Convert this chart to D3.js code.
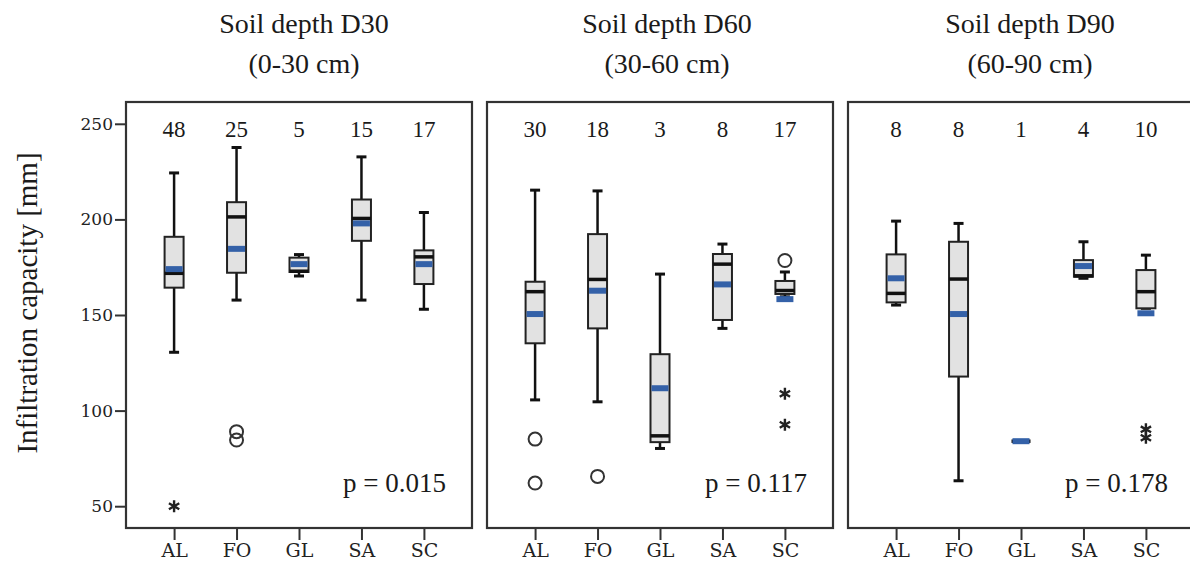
<!DOCTYPE html>
<html lang="en">
  <head>
    <meta charset="utf-8">
    <title>Infiltration capacity by soil depth</title>
    <style>
body {
  margin: 0;
  background: #fff;
}
svg {
  display: block;
}
.title, .count, .pval, .ylabel {
  font-family: "Liberation Serif", "Times New Roman", serif;
  fill: #1a1a1a;
}
.axis text {
  font-family: "DejaVu Serif", serif;
  fill: #222;
}
.axis path {
  display: none;
}
.axis line {
  stroke: #333;
  stroke-width: 2;
}
.frame {
  fill: none;
  stroke: #333;
  stroke-width: 2.2;
}
.whisker {
  stroke: #111;
  stroke-width: 2.5;
}
.cap {
  stroke: #111;
  stroke-width: 3;
}
.box {
  fill: #e2e2e2;
  stroke: #222;
  stroke-width: 2;
}
.median {
  stroke: #111;
  stroke-width: 3.5;
}
.mean {
  stroke: #3461a8;
  stroke-width: 6;
}
.outlier {
  fill: none;
  stroke: #333;
  stroke-width: 2;
}
.extreme {
  fill: none;
  stroke: #222;
  stroke-width: 2.4;
}
    </style>
  </head>
  <body>
    <svg></svg>
    <script src="https://cdn.jsdelivr.net/npm/d3@7"></script>
    <script>

const groups = ["AL", "FO", "GL", "SA", "SC"];
const depthTitles = ["Soil depth D30", "Soil depth D60", "Soil depth D90"];
const depthRanges = ["(0-30 cm)", "(30-60 cm)", "(60-90 cm)"];
const counts = [
  [48, 25, 5, 15, 17],
  [30, 18, 3, 8, 17],
  [8, 8, 1, 4, 10]
];
const pValues = ["p = 0.015", "p = 0.117", "p = 0.178"];
const yTicks = [50, 100, 150, 200, 250];

// [lower whisker, Q1, median, Q3, upper whisker] per group
const statsD30 = [
  [130.5, 164.3, 171.8, 190.9, 224.3],
  [157.8, 172.1, 201.3, 209.0, 237.6],
  [170.4, 172.5, 172.9, 180.0, 181.6],
  [157.8, 188.8, 200.5, 210.4, 232.7],
  [153.0, 166.2, 180.4, 183.8, 203.6]
];
const statsD60 = [
  [105.6, 135.2, 162.2, 167.4, 215.3],
  [104.6, 143.0, 168.6, 192.3, 214.9],
  [80.2, 83.5, 86.8, 129.5, 171.4],
  [143.0, 147.4, 176.6, 181.9, 187.1],
  [159.5, 161.0, 162.8, 167.8, 172.5]
];
const statsD90 = [
  [155.2, 156.6, 161.3, 181.7, 199.1],
  [63.3, 117.8, 168.8, 188.3, 197.9],
  [84.0, 84.0, 84.0, 84.0, 84.0],
  [169.2, 170.0, 170.5, 178.7, 188.3],
  [153.5, 153.5, 162.2, 173.5, 181.3]
];
const meansD30 = [174.0, 184.6, 176.6, 197.9, 176.6];
const meansD60 = [150.5, 162.7, 111.7, 166.0, 158.3];
const meansD90 = [169.2, 150.5, 84.0, 175.6, 150.9];

// outliers: [panel, group, value]
const circleOutliers = [
  [0, "FO", 89.0], [0, "FO", 84.6],
  [1, "AL", 85.1], [1, "AL", 62.1], [1, "FO", 65.6], [1, "SC", 178.5]
];
const starOutliers = [
  [0, "AL", 50.0],
  [1, "SC", 108.8], [1, "SC", 92.6],
  [2, "SC", 90.2], [2, "SC", 85.8]
];

const statsByDepth = [statsD30, statsD60, statsD90];
const meansByDepth = [meansD30, meansD60, meansD90];

let width = 1190,
    height = 565,
    plotLeft = 126,
    plotTop = 102,
    plotBottom = 528,
    panelW = 346,
    gap = 15,
    boxW = 19,
    capW = 10;

let svg = d3.select("svg")
    .attr("width", width)
    .attr("height", height);

let y = d3.scaleLinear()
    .domain([38.6, 261.4])
    .range([plotBottom, plotTop]);

let x = d3.scalePoint()
    .domain(groups)
    .range([0, panelW])
    .padding(0.77);

let starType = d3.symbolAsterisk || d3.symbolCross;
let star = d3.symbol().type(starType).size(100);

svg.append("text")
    .attr("class", "ylabel")
    .attr("transform", "translate(37,303) rotate(-90)")
    .attr("text-anchor", "middle")
    .style("font-size", "29px")
    .text("Infiltration capacity [mm]");

depthTitles.forEach(function(title, i) {
  let px = plotLeft + i * (panelW + gap);
  let g = svg.append("g")
      .attr("transform", "translate(" + px + ",0)");

  // titles sit a little right of the panel centre
  let tx = panelW / 2 + 5 + i * 2;
  g.append("text")
      .attr("class", "title")
      .attr("x", tx)
      .attr("y", 33)
      .attr("text-anchor", "middle")
      .style("font-size", "28px")
      .text(title);
  g.append("text")
      .attr("class", "title")
      .attr("x", tx)
      .attr("y", 73)
      .attr("text-anchor", "middle")
      .style("font-size", "28px")
      .text(depthRanges[i]);

  if (i === 0) {
    g.append("g")
        .attr("class", "axis")
        .call(d3.axisLeft(y).tickValues(yTicks).tickSize(11).tickPadding(2))
        .selectAll("text")
        .style("font-size", "17px");
  }

  g.append("g")
      .attr("class", "axis")
      .attr("transform", "translate(0," + plotBottom + ")")
      .call(d3.axisBottom(x).tickSize(12).tickPadding(4))
      .selectAll("text")
      .style("font-size", "19px");

  g.append("rect")
      .attr("class", "frame")
      .attr("x", 0)
      .attr("y", plotTop)
      .attr("width", panelW)
      .attr("height", plotBottom - plotTop);

  g.selectAll(".count")
      .data(counts[i])
    .enter().append("text")
      .attr("class", "count")
      .attr("x", function(d, j) { return x(groups[j]); })
      .attr("y", 137)
      .attr("text-anchor", "middle")
      .style("font-size", "23px")
      .text(function(d) { return d; });

  let stats = statsByDepth[i].map(function(s, j) {
    return {group: groups[j], s: s, mean: meansByDepth[i][j]};
  });

  let box = g.selectAll(".bx")
      .data(stats)
    .enter().append("g")
      .attr("class", "bx")
      .attr("transform", function(d) { return "translate(" + x(d.group) + ",0)"; });

  box.append("line")
      .attr("class", "whisker")
      .attr("y1", function(d) { return y(d.s[0]); })
      .attr("y2", function(d) { return y(d.s[4]); });

  box.append("line")
      .attr("class", "cap")
      .attr("x1", -capW / 2).attr("x2", capW / 2)
      .attr("y1", function(d) { return y(d.s[4]); })
      .attr("y2", function(d) { return y(d.s[4]); });

  box.append("line")
      .attr("class", "cap")
      .attr("x1", -capW / 2).attr("x2", capW / 2)
      .attr("y1", function(d) { return y(d.s[0]); })
      .attr("y2", function(d) { return y(d.s[0]); });

  box.append("rect")
      .attr("class", "box")
      .attr("x", -boxW / 2)
      .attr("width", boxW)
      .attr("y", function(d) { return y(d.s[3]); })
      .attr("height", function(d) { return y(d.s[1]) - y(d.s[3]); });

  box.append("line")
      .attr("class", "median")
      .attr("x1", -boxW / 2).attr("x2", boxW / 2)
      .attr("y1", function(d) { return y(d.s[2]); })
      .attr("y2", function(d) { return y(d.s[2]); });

  box.append("line")
      .attr("class", "mean")
      .attr("x1", -boxW / 2 + 1).attr("x2", boxW / 2 - 1)
      .attr("y1", function(d) { return y(d.mean); })
      .attr("y2", function(d) { return y(d.mean); });

  g.selectAll(".outlier")
      .data(circleOutliers.filter(function(o) { return o[0] === i; }))
    .enter().append("circle")
      .attr("class", "outlier")
      .attr("cx", function(d) { return x(d[1]); })
      .attr("cy", function(d) { return y(d[2]); })
      .attr("r", 6.5);

  g.selectAll(".extreme")
      .data(starOutliers.filter(function(o) { return o[0] === i; }))
    .enter().append("path")
      .attr("class", "extreme")
      .attr("d", star)
      .attr("transform", function(d) { return "translate(" + x(d[1]) + "," + y(d[2]) + ")"; });

  g.append("text")
      .attr("class", "pval")
      .attr("x", panelW - 26)
      .attr("y", 492)
      .attr("text-anchor", "end")
      .style("font-size", "27px")
      .text(pValues[i]);
});

    </script>
  </body>
</html>
